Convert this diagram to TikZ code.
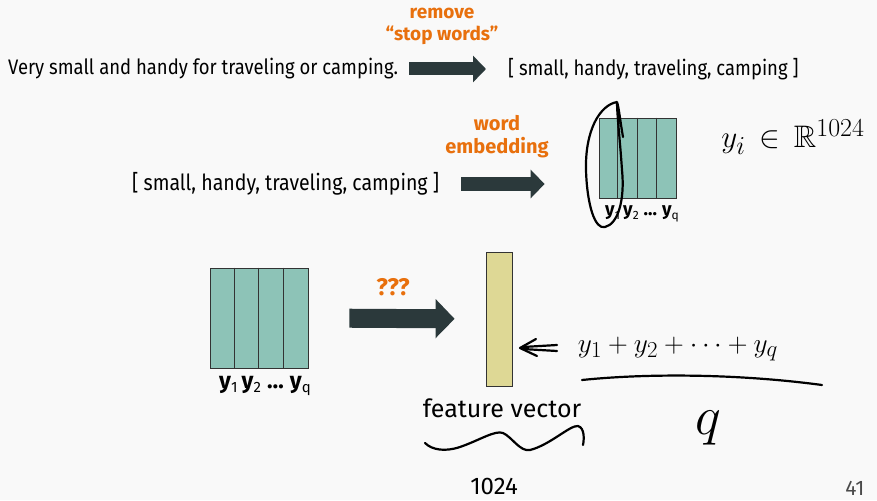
\documentclass[tikz,border=0pt]{standalone}
\usepackage{amssymb}
\usepackage{fontspec}
\setmainfont{Fira Sans}
\newfontfamily\condfont[FakeStretch=0.88]{Fira Sans}
\usetikzlibrary{arrows.meta}

\definecolor{slidebg}{HTML}{F9F9F9}
\definecolor{arrowgray}{HTML}{2B393B}
\definecolor{hiorange}{HTML}{E8700D}
\definecolor{embteal}{HTML}{8DC3B7}
\definecolor{feattan}{HTML}{DED895}
\definecolor{pagegray}{HTML}{4A4A4A}

\tikzset{
  fatarrow/.style={draw=arrowgray, line width=#1, -{Triangle[length=0pt 1, width=0pt 2]}},
  hilabel/.style={text=hiorange, font=\bfseries, align=center, inner sep=0pt},
  plain/.style={inner sep=0pt, anchor=west},
  hand/.style={line width=2.2pt, line cap=round, line join=round},
  handtext/.style={inner sep=0pt, font=\fontsize{24.88}{28}\selectfont}
}

\newcommand{\yy}[1]{\textbf{y}\raisebox{-0.35ex}{\scalebox{0.65}{#1}}}

\begin{document}
\begin{tikzpicture}[x=1pt, y=-1pt]

% ----------------- Canvas -----------------
\fill[slidebg] (0,0) rectangle (877,500);
\useasboundingbox (0,0) rectangle (877,500);

% ----------------- Row 1: stop words -----------------
\node[plain, font=\condfont\fontsize{21}{24}\selectfont] (sent) at (8,69)
  {Very small and handy for traveling or camping.};
\node[plain, font=\condfont\fontsize{21}{24}\selectfont] (list1) at (508,69)
  {[ small, handy, traveling, camping ]};
\node[hilabel, font=\bfseries\fontsize{19}{22}\selectfont] (rem) at (442,26)
  {remove\\“stop words”};
\draw[fatarrow=13pt, shorten <=11pt, shorten >=22pt] (sent.east) -- (list1.west);

% ----------------- Row 2: word embedding -----------------
\node[plain, font=\condfont\fontsize{22.2}{26}\selectfont] (list2) at (132,184)
  {[ small, handy, traveling, camping ]};
\node[hilabel, font=\bfseries\fontsize{20}{23}\selectfont] (wemb) at (497,137)
  {word\\embedding};
\node[draw=black!80, fill=embteal, minimum width=77pt, minimum height=80pt,
      inner sep=0pt, line width=0.8pt] (emb) at (637.5,158) {};
\foreach \k in {1,2,3}
  \draw[black!80, line width=0.8pt] ([xshift=\k*19.25pt]emb.north west) -- ([xshift=\k*19.25pt]emb.south west);
\node[font=\fontsize{18.5}{21}\selectfont, inner sep=0pt] (embl) at (642,214)
  {\yy{1}\,\yy{2} \textbf{…} \yy{q}};
\draw[fatarrow=14pt, shorten <=22pt, shorten >=54pt] (list2.east) -- (list2.east -| emb.west);

% ----------------- Row 3: feature vector -----------------
\node[draw=black!80, fill=embteal, minimum width=98pt, minimum height=100pt,
      inner sep=0pt, line width=0.8pt] (mat) at (259,318) {};
\foreach \k in {1,2,3}
  \draw[black!80, line width=0.8pt] ([xshift=\k*24.5pt]mat.north west) -- ([xshift=\k*24.5pt]mat.south west);
\node[font=\fontsize{23}{26}\selectfont, inner sep=0pt] (matl) at (265,386)
  {\yy{1}\,\yy{2} \textbf{…} \yy{q}};
\node[hilabel, font=\bfseries\fontsize{24}{26}\selectfont] (qq) at (393,287) {???};
\node[draw=black!80, fill=feattan, minimum width=26pt, minimum height=134pt,
      inner sep=0pt, line width=0.8pt] (feat) at (499,319) {};
\node[font=\fontsize{25}{28}\selectfont, inner sep=0pt] (featl) at (502,408) {feature vector};
\draw[fatarrow=19pt, shorten <=41pt, shorten >=31pt] (mat.east) -- (feat.west);

% ----------------- Page number -----------------
\node[text=pagegray, font=\fontsize{21}{24}\selectfont, inner sep=0pt] (page) at (855,488) {41};

% ----------------- Handwritten notes -----------------
% loop round the first column
\draw[hand] (623,137) .. controls (620,120) and (619,108) .. (617,102)
  .. controls (600,105) and (585,130) .. (586,170)
  .. controls (587,205) and (595,230) .. (605,227)
  .. controls (618,224) and (625,200) .. (622,170)
  .. controls (620,140) and (617,115) .. (617,102);
\node[handtext] (dim) at (793,137)
  {\scalebox{1.25}{$y_{i}\,\in\,\mathbb{R}^{1024}$}};

% mean of the columns
\draw[hand] (557,345) -- (523,347);
\draw[hand] (557,351) -- (523,349);
\draw[hand] (536,339) -- (520,348) -- (537,356);
\node[handtext] (sum) at (678,349)
  {\scalebox{1.1}{$y_{1}+y_{2}+\cdots+y_{q}$}};
\draw[hand] (582,380) .. controls (650,373) and (740,374) .. (822,385);
\node[handtext] (den) at (708,428) {\scalebox{2.2}{$q$}};

% size of the feature vector
\draw[hand] (425,443) .. controls (432,450) and (445,452) .. (460,447)
  .. controls (480,440) and (495,430) .. (503,433)
  .. controls (512,437) and (520,452) .. (530,450)
  .. controls (550,445) and (570,425) .. (578,426)
  .. controls (585,428) and (584,440) .. (583,445);
\node[font=\fontsize{24}{26}\selectfont, inner sep=0pt] (flen) at (494,486) {1024};

\end{tikzpicture}
\end{document}
